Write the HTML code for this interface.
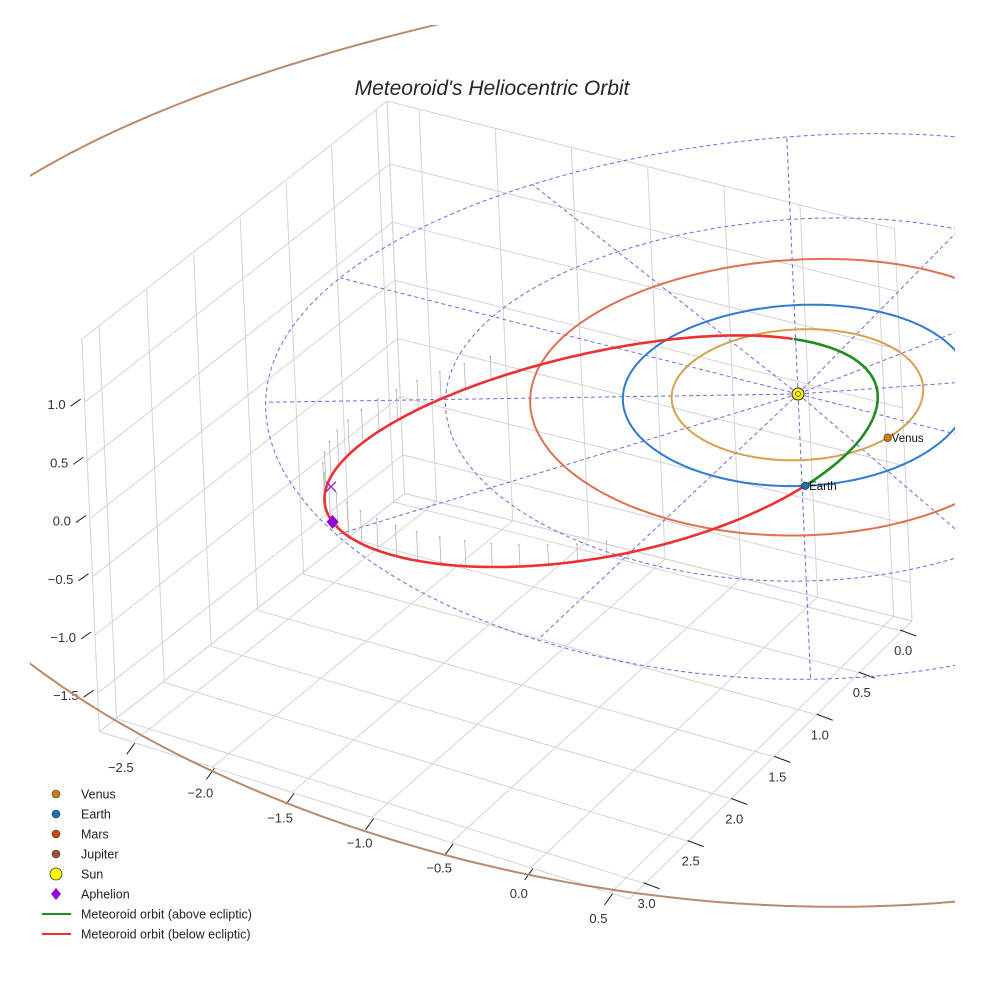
<!DOCTYPE html>
<html><head><meta charset="utf-8"><title>Meteoroid's Heliocentric Orbit</title>
<style>
html,body{margin:0;padding:0;background:#fff;}
svg{display:block;font-family:"Liberation Sans",sans-serif;}
</style></head>
<body>
<svg id="chart" width="984" height="984" viewBox="0 0 984 984" xmlns="http://www.w3.org/2000/svg">
<defs><clipPath id="clip"><rect x="30" y="25" width="925" height="945"/></clipPath></defs>
<text x="492" y="95" text-anchor="middle" font-size="21" font-style="italic" fill="#262626">Meteoroid's Heliocentric Orbit</text>
<g id="grid"></g>
<g id="ticks"></g>
<g id="plot" clip-path="url(#clip)"></g>
<g id="legend"></g>
</svg>
<script>
// ---- data ----
const xTicks = [-2.5, -2.0, -1.5, -1.0, -0.5, 0.0, 0.5];
const yTicks = [0.0, 0.5, 1.0, 1.5, 2.0, 2.5, 3.0];
const zTicks = [-1.5, -1.0, -0.5, 0.0, 0.5, 1.0];
const xRange = [-2.71, 0.62];
const yRange = [-0.12, 3.18];
const zRange = [-1.83, 1.54];
const planetNames = ["Venus", "Earth", "Mars", "Jupiter"];
const planetRadii = [0.723, 1.0, 1.524, 5.203];
const planetColors = ["#d6a24e", "#2f7ad2", "#df7150", "#b98a6c"];
const markerColors = ["#c97f10", "#1f6fb4", "#cc4a12", "#a0522d"];
const planetAngles = [16, 59]; // degrees, Venus and Earth positions shown
const gridRadii = [1, 2, 3];
const gridAngles = [0, 30, 60, 90, 120, 150, 180, 210, 240, 270, 300, 330];
// meteoroid orbital elements
const orbitQ = [0.4405];     // perihelion distance (AU)
const orbitE = [0.7297];     // eccentricity
const orbitInc = [6.5];      // inclination (deg)
const orbitNode = [59];      // longitude of ascending node (deg)
const orbitPeri = [109];     // argument of perihelion (deg)

// ---- projection (axis function) ----
function proj(x, y, z) {
  const sx = 0.96 + 0.013 * y, sy = 0.77 + 0.072 * y;
  return [798 + (159 * x - 83.7 * y) * sx - 3.2 * y - 5.2 * z, 394 + 50.3 * x * sy + 82 * y - 116.4 * z];
}
const NS = "http://www.w3.org/2000/svg";
function mk(tag, attrs, parent) {
  const el = document.createElementNS(NS, tag);
  for (const k in attrs) el.setAttribute(k, attrs[k]);
  parent.appendChild(el);
  return el;
}
function pts(arr) { return arr.map(p => p[0].toFixed(1) + "," + p[1].toFixed(1)).join(" "); }
function seg(g, a, b, st) { const p = proj(...a), q = proj(...b);
  return mk("line", Object.assign({x1: p[0], y1: p[1], x2: q[0], y2: q[1]}, st), g); }

const grid = document.getElementById("grid");
const gst = {stroke: "#d4d4d4", "stroke-width": 1};
const [x0, x1] = xRange, [y0, y1] = yRange, [z0, z1] = zRange;
const xs = [x0, ...xTicks, x1], ys = [y0, ...yTicks, y1], zs = [z0, ...zTicks, z1];
// floor
xs.forEach(x => { const l = seg(grid, [x, y0, z0], [x, y1, z0], gst);
  
   });
ys.forEach(y => { const l = seg(grid, [x0, y, z0], [x1, y, z0], gst);
  
   });
// left wall
ys.forEach(y => { const l = seg(grid, [x0, y, z0], [x0, y, z1], gst);
  
   });
zs.forEach(z => { const l = seg(grid, [x0, y0, z], [x0, y1, z], gst);
  
   });
// back wall
xs.forEach(x => { const l = seg(grid, [x, y0, z0], [x, y0, z1], gst);
  
   });
zs.forEach(z => { const l = seg(grid, [x0, y0, z], [x1, y0, z], gst);
  
   });

// ticks
const tg = document.getElementById("ticks");
const tst = {stroke: "#222", "stroke-width": 1};
const fs = {"font-size": 13, fill: "#333"};
function fmt(v) { return (v < 0 ? "\u2212" : "") + Math.abs(v).toFixed(1); }
xTicks.forEach(x => { const p = proj(x, y1, z0);
  const t = mk("line", Object.assign({x1: p[0] + 2, y1: p[1] + 1, x2: p[0] - 6, y2: p[1] + 12}, tst), tg);
  
  
  const tx = mk("text", Object.assign({x: p[0] - 12, y: p[1] + 30, "text-anchor": "middle"}, fs), tg);
  tx.textContent = fmt(x);
  
   });
yTicks.forEach(y => { const p = proj(x1, y, z0);
  const t = mk("line", Object.assign({x1: p[0] - 2, y1: p[1] - 1, x2: p[0] + 14, y2: p[1] + 5}, tst), tg);
  
  
  const tx = mk("text", Object.assign({x: p[0] + 1, y: p[1] + 24, "text-anchor": "middle"}, fs), tg);
  tx.textContent = fmt(y);
  
   });
zTicks.forEach(z => { const p = proj(x0, y1, z);
  const t = mk("line", Object.assign({x1: p[0] - 4, y1: p[1] - 3, x2: p[0] - 14, y2: p[1] + 4}, tst), tg);
  
  
  const tx = mk("text", Object.assign({x: p[0] - 19, y: p[1] + 7, "text-anchor": "end"}, fs), tg);
  tx.textContent = fmt(z);
  
   });

// plot
const pg = document.getElementById("plot");
function circle3(r, n) { const a = []; for (let k = 0; k <= n; k++) { const t = 2 * Math.PI * k / n; a.push(proj(r * Math.cos(t), r * Math.sin(t), 0)); } return a; }
const dst = {fill: "none", stroke: "#6b6bea", "stroke-width": 1, "stroke-dasharray": "4,3"};
gridRadii.forEach(r => { const c = mk("polyline", Object.assign({points: pts(circle3(r, 180))}, dst), pg);
  
   });
const rmax = gridRadii[gridRadii.length - 1];
gridAngles.forEach(a => { const t = a * Math.PI / 180;
  const l = seg(pg, [0, 0, 0], [rmax * Math.cos(t), rmax * Math.sin(t), 0], dst);
  
   });
planetRadii.forEach((r, i) => {
  const c = mk("polyline", {points: pts(circle3(r, 360)), fill: "none", stroke: planetColors[i], "stroke-width": 2}, pg);
  
   });

// meteoroid orbit
const q = orbitQ[0], e = orbitE[0], inc = orbitInc[0] * Math.PI / 180, Om = orbitNode[0] * Math.PI / 180, w = orbitPeri[0] * Math.PI / 180;
const pLat = q * (1 + e);
const N = [Math.cos(Om), Math.sin(Om)], T = [Math.cos(Om - Math.PI / 2), Math.sin(Om - Math.PI / 2)];
function orb(nu) { const r = pLat / (1 + e * Math.cos(nu)), u = w + nu;
  const a = r * Math.cos(u), b = r * Math.sin(u) * Math.cos(inc);
  return [a * N[0] + b * T[0], a * N[1] + b * T[1], r * Math.sin(u) * Math.sin(inc)]; }
// stems (sampled uniformly in eccentric anomaly)
for (let E = 100; E <= 260; E += 6) {
  const Er = E * Math.PI / 180;
  const nu = 2 * Math.atan2(Math.sqrt(1 + e) * Math.sin(Er / 2), Math.sqrt(1 - e) * Math.cos(Er / 2));
  const P = orb(nu);
  const s = seg(pg, P, [P[0], P[1], 0], {stroke: "#b8b8b8", "stroke-width": 0.8});
  
  
  const d = proj(P[0], P[1], 0);
  const c = mk("circle", {cx: d[0], cy: d[1], r: 0.9, fill: "#aaa"}, pg);
  
  
}
const above = [], below = [];
for (let k = 0; k <= 720; k++) { const nu = -w + k * Math.PI / 360; const P = orb(nu); (P[2] >= 0 ? above : below).push(proj(...P)); }
const red = mk("polyline", {points: pts(below), fill: "none", stroke: "#ee3030", "stroke-width": 2.6}, pg);


const green = mk("polyline", {points: pts(above), fill: "none", stroke: "#1e8c1e", "stroke-width": 2.6}, pg);



// aphelion
const A = orb(Math.PI), Ap = proj(...A), Ax = proj(A[0], A[1], 0);
const xm = mk("path", {d: `M${Ax[0]-5},${Ax[1]-5}L${Ax[0]+5},${Ax[1]+5}M${Ax[0]-5},${Ax[1]+5}L${Ax[0]+5},${Ax[1]-5}`, stroke: "#9a2ad0", "stroke-width": 1.4}, pg);


const dm = mk("path", {d: `M${Ap[0]},${Ap[1]-7}L${Ap[0]+6},${Ap[1]}L${Ap[0]},${Ap[1]+7}L${Ap[0]-6},${Ap[1]}Z`, fill: "#9400d3"}, pg);



// planets
planetAngles.forEach((ang, i) => { const t = ang * Math.PI / 180, r = planetRadii[i];
  const P = proj(r * Math.cos(t), r * Math.sin(t), 0);
  const c = mk("circle", {cx: P[0], cy: P[1], r: 3.8, fill: markerColors[i], stroke: "#222", "stroke-width": 0.6}, pg);
  
  
  const tx = mk("text", {x: P[0] + 4, y: P[1] + 4, "font-size": 11.5, fill: "#111"}, pg);
  tx.textContent = planetNames[i];
  
   });
const S = proj(0, 0, 0);
const sun = mk("circle", {cx: S[0], cy: S[1], r: 6, fill: "#ffff00", stroke: "#222", "stroke-width": 1}, pg);


const sunc = mk("circle", {cx: S[0], cy: S[1], r: 2.5, fill: "none", stroke: "#444", "stroke-width": 0.8}, pg);



// legend
const lg = document.getElementById("legend");
const legendLabels = ["Venus", "Earth", "Mars", "Jupiter", "Sun", "Aphelion", "Meteoroid orbit (above ecliptic)", "Meteoroid orbit (below ecliptic)"];
legendLabels.forEach((lab, i) => {
  const y = 794 + i * 20;
  let m;
  if (i < 4) m = mk("circle", {cx: 56, cy: y, r: 4, fill: markerColors[i], stroke: "#333", "stroke-width": 0.6}, lg);
  else if (i === 4) m = mk("circle", {cx: 56, cy: y, r: 6, fill: "#ffff00", stroke: "#333", "stroke-width": 0.8}, lg);
  else if (i === 5) m = mk("path", {d: `M56,${y-6}L61,${y}L56,${y+6}L51,${y}Z`, fill: "#9400d3"}, lg);
  else m = mk("line", {x1: 42, y1: y, x2: 71, y2: y, stroke: i === 6 ? "#1e8c1e" : "#ee3030", "stroke-width": 2}, lg);
  
  
  const t = mk("text", {x: 81, y: y + 4.5, "font-size": 12.5, fill: "#222"}, lg);
  t.textContent = lab;
  
  
});
</script>
</body></html>
